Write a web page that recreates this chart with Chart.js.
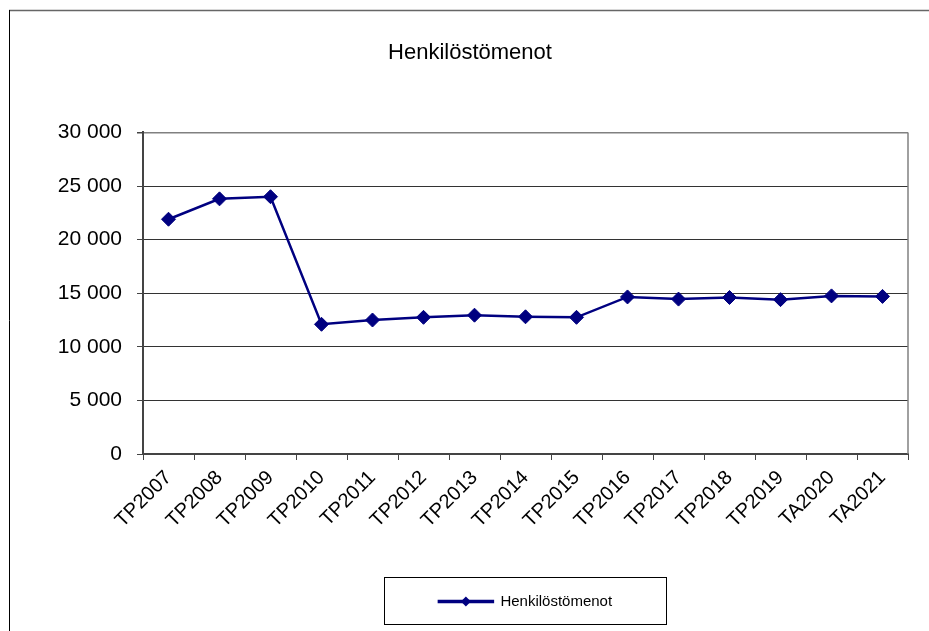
<!DOCTYPE html>
<html>
<head>
<meta charset="utf-8">
<script src="https://cdn.jsdelivr.net/npm/chart.js@4.4.1/dist/chart.umd.min.js"></script>
<style>
  html, body { margin: 0; padding: 0; background: #fff; }
  canvas { display: block; }
</style>
</head>
<body>
<canvas id="myChart" width="929" height="631"></canvas>
<script>
// Chart data
var labels = ["TP2007", "TP2008", "TP2009", "TP2010", "TP2011", "TP2012", "TP2013", "TP2014",
              "TP2015", "TP2016", "TP2017", "TP2018", "TP2019", "TA2020", "TA2021"];
var henkilostomenot = [21900, 23800, 24000, 12100, 12500, 12750, 12950, 12800,
                       12750, 14650, 14450, 14600, 14400, 14750, 14700];
var seriesName = "Henkilöstömenot";
var chartTitle = "Henkilöstömenot";
var yMin = 0, yMax = 30000, yStep = 5000;

const NAVY = "#000080";
const FONT = "'Liberation Sans', Arial, sans-serif";

// Format 30000 -> "30 000"
function formatThousands(v) {
  return v.toString().replace(/\B(?=(\d{3})+(?!\d))/g, " ");
}

// Outer frame, plot border and legend frame
var framePlugin = {
  id: "frame",
  beforeDraw(chart) {
    var ctx = chart.ctx;
    ctx.save();
    ctx.fillStyle = "#fff";
    ctx.fillRect(0, 0, chart.width, chart.height);
    ctx.restore();
  },
  afterDraw(chart) {
    var ctx = chart.ctx;
    var area = chart.chartArea;
    ctx.save();
    // outer chart frame (only top and left visible)
    ctx.strokeStyle = "#666";
    ctx.lineWidth = 1.5;
    ctx.beginPath();
    ctx.moveTo(9, 10.5);
    ctx.lineTo(chart.width, 10.5);
    ctx.stroke();
    ctx.strokeStyle = "#000";
    ctx.lineWidth = 1;
    ctx.beginPath();
    ctx.moveTo(9.5, 10);
    ctx.lineTo(9.5, chart.height);
    ctx.stroke();
    // right border of plot area
    ctx.strokeStyle = "#808080";
    ctx.lineWidth = 1.5;
    ctx.beginPath();
    ctx.moveTo(area.right, area.top);
    ctx.lineTo(area.right, area.bottom);
    ctx.stroke();
    // legend frame and diamond marker
    var hb = chart.legend.legendHitBoxes[0];
    if (hb) {
      var cy = hb.top + hb.height / 2;
      ctx.strokeStyle = "#000";
      ctx.lineWidth = 1;
      var left = Math.round(hb.left - 55) + 0.5;
      var right = Math.round(hb.left + hb.width + 54) + 0.5;
      ctx.strokeRect(left, Math.round(cy - 25) + 0.5, right - left, 47);
      var dx = hb.left + 27;
      ctx.fillStyle = NAVY;
      ctx.beginPath();
      ctx.moveTo(dx, cy - 5);
      ctx.lineTo(dx + 5, cy);
      ctx.lineTo(dx, cy + 5);
      ctx.lineTo(dx - 5, cy);
      ctx.closePath();
      ctx.fill();
    }
    ctx.restore();
  }
};

var ctx = document.getElementById("myChart").getContext("2d");
var myChart = new Chart(ctx, {
  type: "line",
  data: {
    labels: labels,
    datasets: [{
      label: seriesName,
      data: henkilostomenot,
      borderColor: NAVY,
      backgroundColor: NAVY,
      borderWidth: 2.5,
      tension: 0,
      pointStyle: "rectRot",
      pointRadius: 7,
      pointHoverRadius: 7,
      pointBackgroundColor: NAVY,
      pointBorderColor: NAVY,
      pointBorderWidth: 1
    }]
  },
  options: {
    responsive: false,
    animation: false,
    layout: { padding: { left: 32, right: 21, top: 0, bottom: 12 } },
    plugins: {
      title: {
        display: true,
        text: chartTitle,
        color: "#000",
        font: { family: FONT, size: 22, weight: "normal" },
        padding: { top: 40, bottom: 66 }
      },
      legend: {
        display: true,
        position: "bottom",
        fullSize: false,
        labels: {
          color: "#000",
          font: { family: FONT, size: 15 },
          boxWidth: 54,
          boxHeight: 1,
          padding: 10
        }
      },
      tooltip: { enabled: false }
    },
    scales: {
      x: {
        offset: true,
        grid: {
          offset: true,
          drawOnChartArea: false,
          drawTicks: true,
          tickLength: 6,
          tickColor: "#444"
        },
        border: { color: "#444", width: 2 },
        ticks: {
          color: "#000",
          font: { family: FONT, size: 20 },
          autoSkip: false,
          minRotation: 45,
          maxRotation: 45,
          padding: 6
        },
        afterFit(scale) { scale.height = 130; }
      },
      y: {
        min: yMin,
        max: yMax,
        grid: {
          color: function (c) { return c.tick && c.tick.value === yMax ? "#808080" : "#333"; },
          lineWidth: function (c) { return c.tick && c.tick.value === yMax ? 1.5 : 1; },
          drawTicks: true,
          tickLength: 6,
          tickColor: "#444"
        },
        border: { color: "#444", width: 2 },
        ticks: {
          stepSize: yStep,
          color: "#000",
          font: { family: FONT, size: 21 },
          padding: 15,
          callback: function (v) { return formatThousands(v); }
        },
        afterFit(scale) { scale.width = 111; }
      }
    }
  },
  plugins: [framePlugin]
});
</script>
</body>
</html>
